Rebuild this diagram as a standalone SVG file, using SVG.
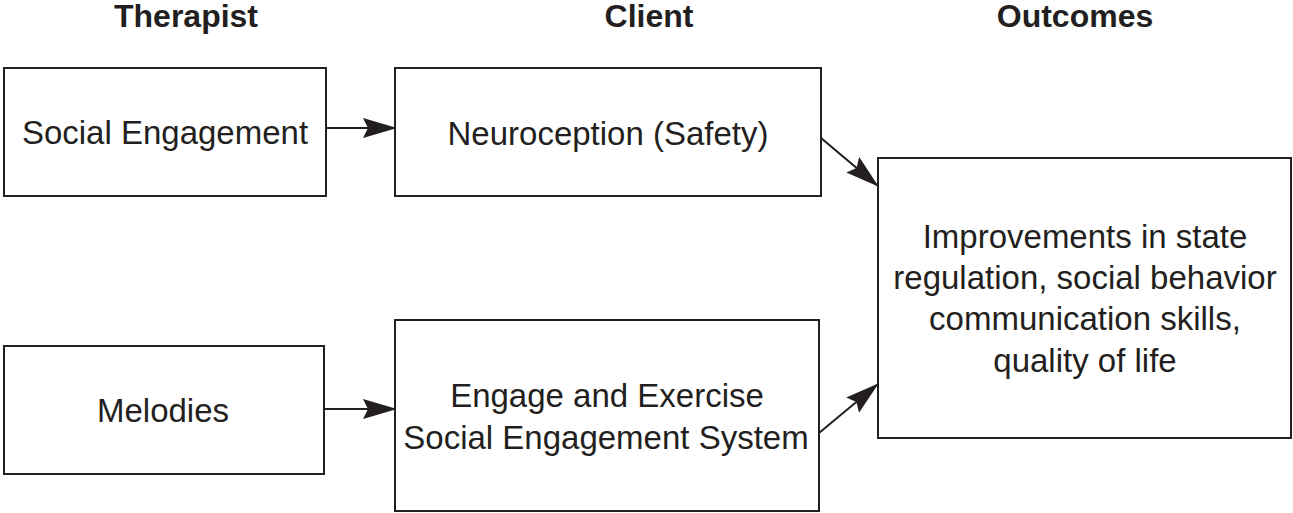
<svg xmlns="http://www.w3.org/2000/svg" width="1293" height="513" viewBox="0 0 1293 513">
<style>
.box{fill:#fff;stroke:#231f20;stroke-width:2}
.t{font-family:"Liberation Sans",Arial,sans-serif;font-size:33px;fill:#231f20;text-anchor:middle}
.h{font-family:"Liberation Sans",Arial,sans-serif;font-size:32px;font-weight:bold;fill:#231f20;text-anchor:middle}
.c{stroke:#231f20;stroke-width:2;fill:none;marker-end:url(#ah)}
</style>
<defs>
<marker id="ah" markerWidth="34" markerHeight="22" refX="33" refY="11" orient="auto" markerUnits="userSpaceOnUse">
<path d="M0,1 L34,11 L0,21 L5,11 Z" fill="#231f20"/>
</marker>
</defs>
<rect width="1293" height="513" fill="#fff"/>
<g id="headers">
<text class="h" x="186" y="27">Therapist</text>
<text class="h" x="649" y="27">Client</text>
<text class="h" x="1075" y="27">Outcomes</text>
</g>
<g id="connectors">
<path class="c" d="M326,128 L396,128"/>
<path class="c" d="M324,409 L396,409"/>
<path class="c" d="M821,138 L878,186"/>
<path class="c" d="M819,433 L878,384"/>
</g>
<g id="social">
<rect class="box" x="4" y="68" width="322" height="128"/>
<text class="t" x="165" y="144">Social Engagement</text>
</g>
<g id="neuro">
<rect class="box" x="395" y="68" width="426" height="128"/>
<text class="t" x="608" y="145">Neuroception (Safety)</text>
</g>
<g id="melodies">
<rect class="box" x="4" y="346" width="320" height="128"/>
<text class="t" x="163" y="422">Melodies</text>
</g>
<g id="engage">
<rect class="box" x="395" y="320" width="424" height="191"/>
<text class="t" x="607" y="407">Engage and Exercise</text>
<text class="t" x="606" y="449">Social Engagement System</text>
</g>
<g id="outcomes">
<rect class="box" x="878" y="158" width="413" height="280"/>
<text class="t" x="1085" y="248">Improvements in state</text>
<text class="t" x="1085" y="289">regulation, social behavior</text>
<text class="t" x="1085" y="330">communication skills,</text>
<text class="t" x="1085" y="372">quality of life</text>
</g>
</svg>
